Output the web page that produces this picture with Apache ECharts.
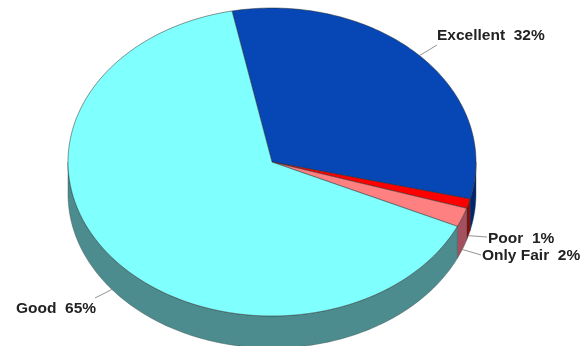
<!DOCTYPE html>
<html><head><meta charset="utf-8">
<style>html,body{margin:0;padding:0;background:#fff}#c{width:582px;height:346px}</style>
<script src="https://cdn.jsdelivr.net/npm/echarts@6/dist/echarts.min.js"></script>
</head><body><div id="c"></div>
<script>
const categories = ['Excellent', 'Poor', 'Only Fair', 'Good'];
const percents = [32, 1, 2, 65];
const topColors = ['#0747b5', '#ff0000', '#ff8080', '#80ffff'];
const sideColors = ['#02266e', '#8c0a0a', '#a4505e', '#4d8c8e'];

// Layout of the tilted pie
const cx = 272, cy = 162, rx = 204, ry = 154, depth = 32, startDeg = -11.3;
// Leader end and label anchor per slice
const leaderEnd = [[437, 45], [487, 237], [481, 255], [95, 298]];
const labelAt = [[437, 36], [488, 239], [482, 256], [16, 309]];

const total = percents.reduce((a, b) => a + b, 0);
const pt = (deg, dy) => {
  const r = deg * Math.PI / 180;
  return [cx + rx * Math.sin(r), cy - ry * Math.cos(r) + (dy || 0)];
};
const arc = (a, b, dy) => {
  const out = [], n = Math.max(2, Math.ceil(Math.abs(b - a)));
  for (let i = 0; i <= n; i++) out.push(pt(a + (b - a) * i / n, dy));
  return out;
};
const starts = [];
percents.reduce((acc, v, i) => { starts[i] = acc; return acc + v; }, 0);

function renderItem(params, api) {
  const i = params.dataIndex, v = api.value(1), s = api.value(2);
  const a = startDeg + s / total * 360, b = a + v / total * 360;
  const children = [];
  const lo = Math.max(a, 90), hi = Math.min(b, 270);
  if (hi > lo) {
    children.push({ type: 'polygon', shape: { points: arc(lo, hi, 0).concat(arc(hi, lo, depth)) },
      style: { fill: sideColors[i], stroke: '#3a4a4a', lineWidth: 0.4 } });
  }
  children.push({ type: 'polygon', shape: { points: [[cx, cy]].concat(arc(a, b, 0)) },
    style: { fill: topColors[i], stroke: '#2a2a2a', lineWidth: 0.5 } });
  const mid = (a + b) / 2, wall = Math.cos(mid * Math.PI / 180) < 0 ? depth : 0;
  children.push({ type: 'line', shape: { x1: pt(mid, wall)[0], y1: pt(mid, wall)[1], x2: leaderEnd[i][0], y2: leaderEnd[i][1] },
    style: { stroke: '#777', lineWidth: 0.8 } });
  children.push({ type: 'text', z2: 10, style: {
    x: labelAt[i][0], y: labelAt[i][1], text: categories[i] + '  ' + v + '%',
    font: 'bold 15.5px "Liberation Sans", Arial, sans-serif', fill: '#222', verticalAlign: 'middle' } });
  return { type: 'group', children };
}

const chart = echarts.init(document.getElementById('c'), null, { renderer: 'canvas' });
chart.setOption({
  animation: false,
  backgroundColor: '#fff',
  series: [{
    type: 'custom',
    coordinateSystem: 'none',
    renderItem,
    silent: true,
    clip: false,
    data: categories.map((c, i) => [c, percents[i], starts[i]])
  }]
});
</script></body></html>
